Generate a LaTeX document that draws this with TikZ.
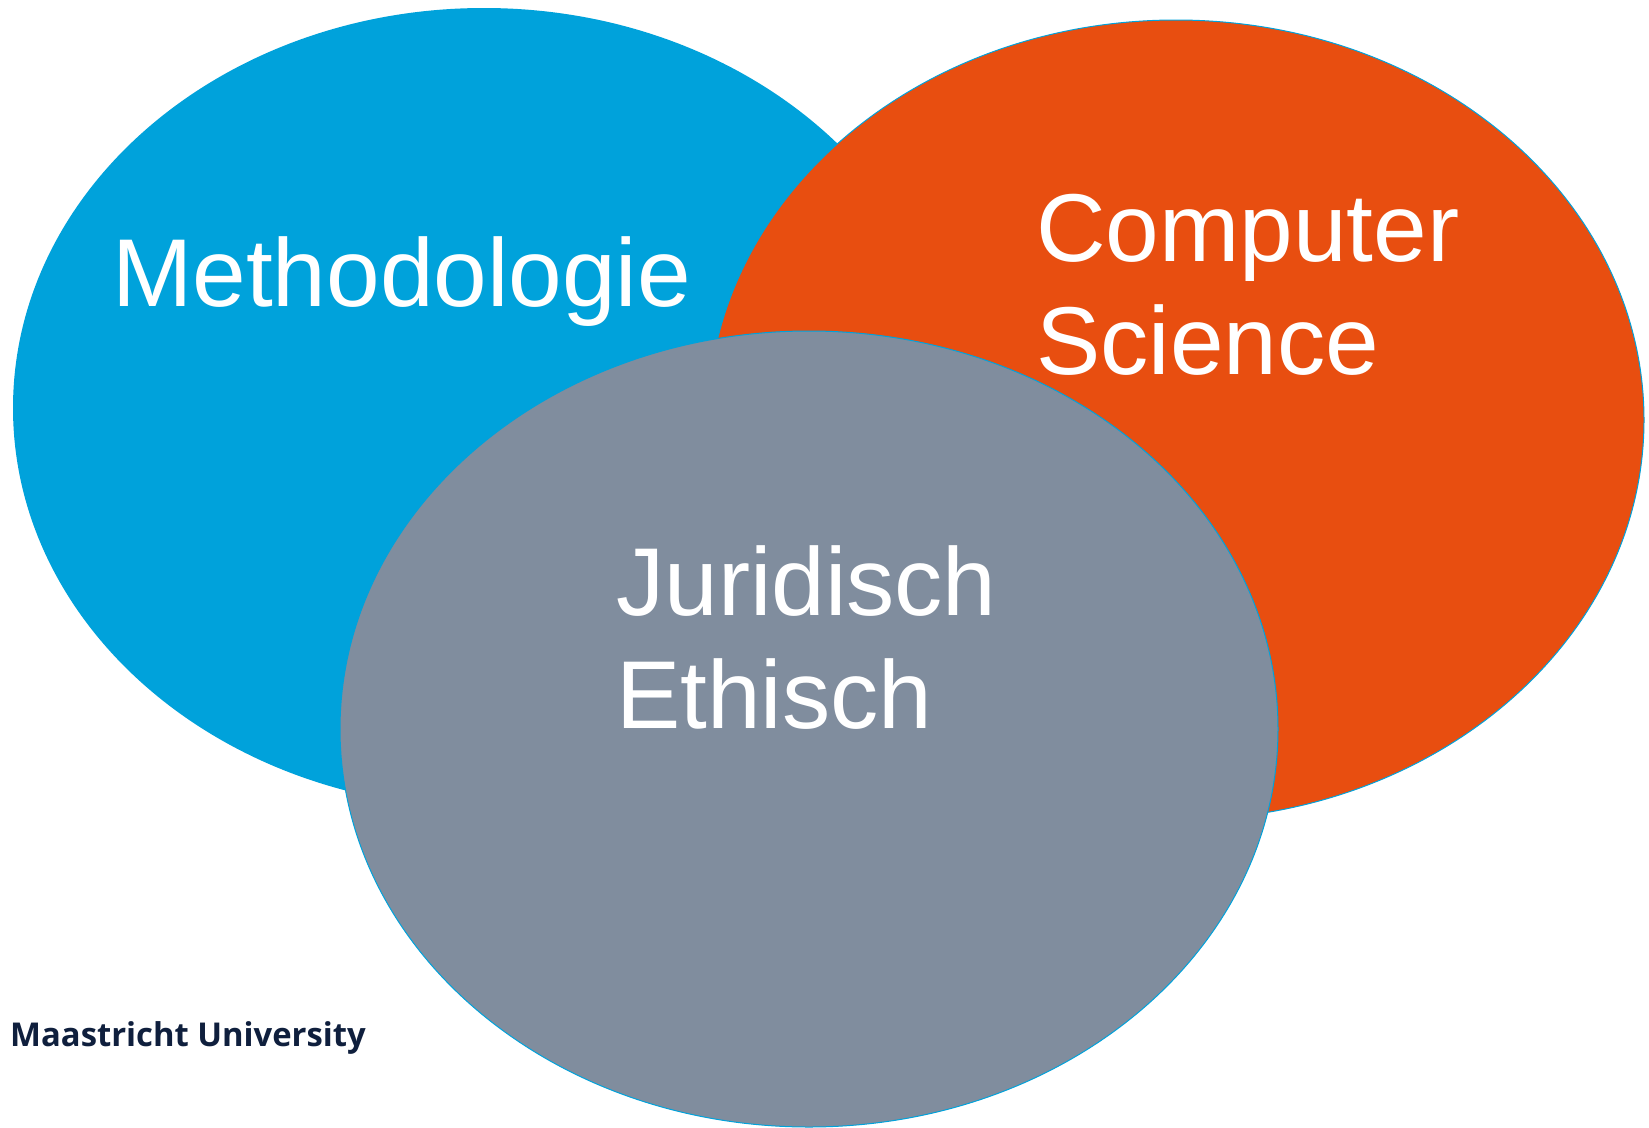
\documentclass[tikz,border=0pt]{standalone}
\usepackage{fontspec}
\setmainfont{Liberation Sans}
\newfontfamily\logofont{Open Sans}
\definecolor{mublue}{HTML}{00A2DB}
\definecolor{muorange}{HTML}{E84E10}
\definecolor{mugrey}{HTML}{808D9E}
\definecolor{mulogo}{HTML}{0F1F3D}
\tikzset{
  lab/.style={text=white, font=\fontsize{96.4}{113}\selectfont, align=left, anchor=north west, inner sep=0pt}
}
\begin{document}
\begin{tikzpicture}[x=1pt,y=-1pt]
\useasboundingbox (0,0) rectangle (1649,1127);
\fill[white] (0,0) rectangle (1649,1127);
\fill[mublue] (484,408) ellipse [x radius=471, y radius=400];
\draw[mublue,fill=muorange,line width=1pt] (1176,420) ellipse [x radius=468, y radius=400];
\draw[mublue,fill=mugrey,line width=1pt] (809,729) ellipse [x radius=469, y radius=398];
\node[lab] (m) at (112,236) {Methodologie};
\node[lab] (c) at (1036,194) {Computer\\Science};
\node[lab] (j) at (616,545) {Juridisch\\Ethisch};
\node[anchor=base west,inner sep=0pt,text=mulogo,font=\logofont\bfseries\fontsize{32.8}{38}\selectfont] (u) at (10,1046) {Maastricht University};
\end{tikzpicture}
\end{document}
